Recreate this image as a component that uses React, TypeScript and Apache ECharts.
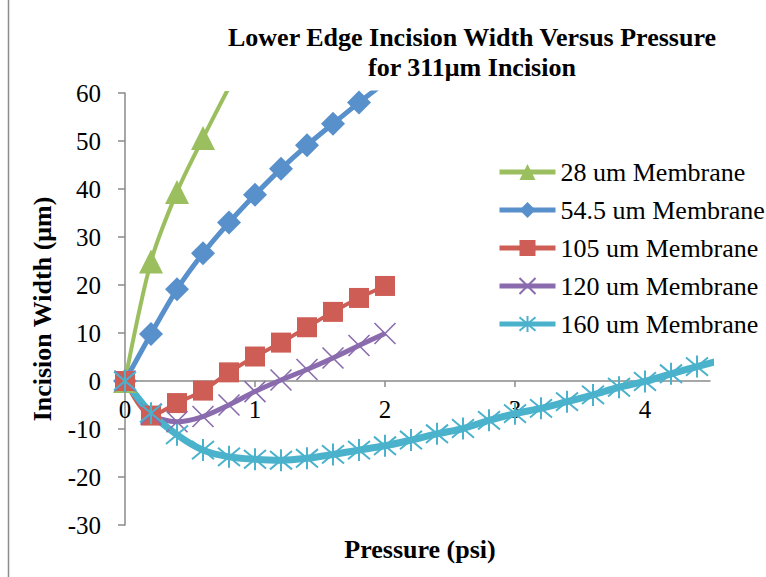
import React, { useEffect, useRef } from "react";
import * as echarts from "echarts";

// ---- data ----
const seriesNames = [
  "28 um Membrane",
  "54.5 um Membrane",
  "105 um Membrane",
  "120 um Membrane",
  "160 um Membrane",
];

const pressure28 = [0, 0.2, 0.4, 0.6, 0.8];
const width28 = [0, 24.9, 39.4, 50.6, 61.2];

const pressure545 = [0, 0.2, 0.4, 0.6, 0.8, 1.0, 1.2, 1.4, 1.6, 1.8, 2.0];
const width545 = [0, 9.8, 19.1, 26.6, 33.0, 38.8, 44.2, 49.1, 53.6, 58.0, 62.2];

const pressure105 = [0, 0.2, 0.4, 0.6, 0.8, 1.0, 1.2, 1.4, 1.6, 1.8, 2.0];
const width105 = [0, -7.2, -4.6, -2.0, 1.8, 5.1, 8.0, 11.2, 14.4, 17.3, 19.8];

const pressure120 = [0, 0.2, 0.4, 0.6, 0.8, 1.0, 1.2, 1.4, 1.6, 1.8, 2.0];
const width120 = [0, -6.9, -8.5, -7.4, -5.0, -2.2, 0.2, 2.4, 4.8, 7.4, 9.9];

const pressure160 = [
  0, 0.2, 0.4, 0.6, 0.8, 1.0, 1.2, 1.4, 1.6, 1.8, 2.0, 2.2, 2.4, 2.6, 2.8, 3.0,
  3.2, 3.4, 3.6, 3.8, 4.0, 4.2, 4.4, 4.6,
];
const width160 = [
  0, -6.7, -11.2, -14.4, -15.8, -16.3, -16.5, -16.1, -15.3, -14.4, -13.5, -12.3,
  -11.0, -9.9, -8.2, -6.8, -5.7, -4.3, -2.9, -1.3, -0.1, 1.5, 3.0, 4.4,
];

const xTickValues = [0, 1, 2, 3, 4];

const titleLine1 = "Lower Edge Incision Width Versus Pressure";
const titleLine2 = "for 311\u03bcm Incision";
const xAxisName = "Pressure (psi)";
const yAxisName = "Incision Width (\u03bcm)";

const FONT = "Liberation Serif";

const colors = ["#9BBF5F", "#5890CC", "#CD5D55", "#8A6CAE", "#4BB2CC"];

const zip = (xs: number[], ys: number[]) => xs.map((x, i) => [x, ys[i]]);

export default function App() {
  const ref = useRef<HTMLDivElement>(null);

  useEffect(() => {
    if (!ref.current) return;
    const chart = echarts.init(ref.current, undefined, { renderer: "svg" });

    const axisColor = "#8A8A8A";
    const labelStyle = {
      fontFamily: FONT,
      fontSize: 25,
      fontWeight: "normal",
      color: "#000",
    };
    const richLabel = {
      formatter: "{t|{value}}",
      rich: { t: { ...labelStyle } },
    };

    const mk = (
      idx: number,
      xs: number[],
      ys: number[],
      symbol: string,
      symbolSize: number,
      lineWidth: number,
      borderWidth = 0
    ) => ({
      name: seriesNames[idx],
      type: "line",
      data: zip(xs, ys),
      smooth: 0.3,
      symbol,
      symbolSize,
      showAllSymbol: true,
      lineStyle: { color: colors[idx], width: lineWidth },
      itemStyle: {
        color: colors[idx],
        borderColor: colors[idx],
        borderWidth,
      },
      emphasis: { disabled: true },
    });

    const gridTop = 93;
    const gridBottomY = 525;
    const zeroY = 381;

    chart.setOption({
      animation: false,
      color: colors,
      textStyle: { fontFamily: FONT },
      grid: {
        left: 125,
        right: 56,
        top: gridTop,
        bottom: 577 - gridBottomY,
        containLabel: false,
        outerBoundsMode: "none",
      },
      graphic: [
        {
          type: "line",
          shape: { x1: 8.5, y1: 0, x2: 8.5, y2: 577 },
          style: { stroke: "#8C8C8C", lineWidth: 1.5 },
        },
        {
          type: "text",
          x: 472,
          y: 37,
          style: {
            text: titleLine1,
            fontFamily: FONT,
            fontSize: 26,
            fontWeight: "bold",
            fill: "#000",
            textAlign: "center",
            textVerticalAlign: "middle",
          },
        },
        {
          type: "text",
          x: 472,
          y: 67,
          style: {
            text: titleLine2,
            fontFamily: FONT,
            fontSize: 26,
            fontWeight: "bold",
            fill: "#000",
            textAlign: "center",
            textVerticalAlign: "middle",
          },
        },
        {
          type: "text",
          x: 420,
          y: 549,
          style: {
            text: xAxisName,
            fontFamily: FONT,
            fontSize: 26,
            fontWeight: "bold",
            fill: "#000",
            textAlign: "center",
            textVerticalAlign: "middle",
          },
        },
      ],
      legend: {
        orient: "vertical",
        left: 497,
        top: 159,
        padding: 0,
        itemWidth: 56,
        itemHeight: 20,
        itemGap: 12,
        data: seriesNames,
        lineStyle: { width: 5 },
        textStyle: { ...labelStyle, fontSize: 26, lineHeight: 26 },
      },
      xAxis: {
        type: "value",
        min: 0,
        max: 4.5,
        interval: 1,
        offset: -(gridBottomY - zeroY),
        axisLine: { show: true, onZero: false, lineStyle: { color: axisColor, width: 1.5 } },
        axisTick: {
          show: true,
          length: 6,
          customValues: xTickValues,
          lineStyle: { color: axisColor, width: 1.5 },
        },
        axisLabel: { ...labelStyle, ...richLabel, margin: 16, customValues: xTickValues },
        splitLine: { show: false },
      },
      yAxis: {
        type: "value",
        min: -30,
        max: 60,
        interval: 10,
        axisLine: { show: true, onZero: false, lineStyle: { color: axisColor, width: 1.5 } },
        axisTick: { show: true, length: 7, lineStyle: { color: axisColor, width: 1.5 } },
        axisLabel: { ...labelStyle, ...richLabel, margin: 24 },
        splitLine: { show: false },
        name: yAxisName,
        nameLocation: "middle",
        nameRotate: 90,
        nameGap: 70,
        nameTextStyle: { fontFamily: FONT, fontSize: 26, fontWeight: "bold", color: "#000" },
      },
      series: [
        mk(0, pressure28, width28, "triangle", 24, 4),
        mk(1, pressure545, width545, "diamond", 24, 5),
        mk(2, pressure105, width105, "rect", 20, 4),
        mk(3, pressure120, width120, "path://M0,0L20,20M20,0L0,20", 21, 5, 1.6),
        mk(4, pressure160, width160, "path://M0,0L20,20M20,0L0,20M10,-2L10,22", 22, 7, 2),
      ],
    });

    return () => chart.dispose();
  }, []);

  return (
    <div
      ref={ref}
      style={{ position: "absolute", left: 0, top: 0, width: 766, height: 577, background: "#fff" }}
    />
  );
}
